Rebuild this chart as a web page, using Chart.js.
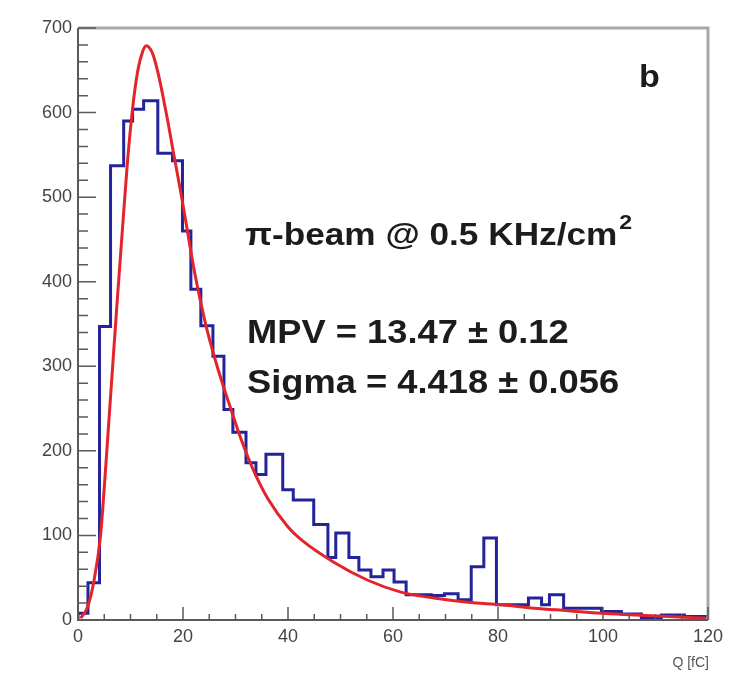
<!DOCTYPE html>
<html>
<head>
<meta charset="utf-8">
<script src="https://cdn.jsdelivr.net/npm/chart.js@4.4.0/dist/chart.umd.min.js"></script>
<style>
  html, body { margin: 0; padding: 0; background: #fff; }
  #wrap { width: 744px; height: 678px; position: relative; }
</style>
</head>
<body>
<div id="wrap"><canvas id="c" width="744" height="678"></canvas></div>
<script>
// histogram bin edges (fC) and counts per bin
var binEdges = [0, 1.9, 4.1, 6.2, 8.7, 10.4, 12.5, 15.2, 18.0, 19.9,
  21.5, 23.4, 25.7, 27.8, 29.5, 32.0, 33.9, 35.8, 39.0, 41.0,
  44.9, 47.6, 49.1, 51.6, 53.5, 55.8, 58.1, 60.2, 62.5, 67.3,
  69.8, 72.4, 74.9, 77.3, 79.7, 85.8, 88.3, 89.8, 92.5, 99.7,
  103.5, 107.3, 111.1, 115.5, 120];
var counts = [8, 44, 347, 537, 590, 604, 614, 552, 543, 460,
  391, 348, 312, 249, 222, 186, 172, 196, 154, 142,
  113, 74, 103, 74, 59, 51, 59, 45, 30, 29,
  31, 24, 63, 97, 18, 26, 18, 30, 14, 10,
  7, 3, 6, 4];

// landau fit curve
var fitQ = [0.5, 1.8, 3.0, 4.3, 5.1, 5.8, 6.6, 7.5, 8.5, 9.4,
  10.4, 11.4, 12.3, 13.0, 14.2, 15.2, 16.1, 17.1, 18.2, 19.6,
  20.9, 22.0, 23.4, 24.7, 26.6, 28.5, 31.0, 33.5, 36.2, 40.0,
  42.5, 48.8, 55.2, 61.5, 67.8, 74.3, 80.6, 86.9, 93.4, 99.7,
  106.0, 112.5, 119.7];
var fitN = [2, 15, 45, 100, 165, 228, 300, 380, 465, 540,
  605, 650, 672, 679, 670, 648, 622, 590, 552, 505,
  458, 418, 375, 340, 298, 261, 215, 176, 143, 110,
  95, 68, 47, 33, 26, 21, 18, 14, 11, 8,
  6, 4, 2];

var xTicks = [0, 20, 40, 60, 80, 100, 120];
var yTicks = [0, 100, 200, 300, 400, 500, 600, 700];

var histPts = [{x: binEdges[0], y: 0}];
for (var i = 0; i < counts.length; i++) histPts.push({x: binEdges[i], y: counts[i]});
histPts.push({x: binEdges[binEdges.length - 1], y: counts[counts.length - 1]});

var fitPts = fitQ.map(function (q, i) { return {x: q, y: fitN[i]}; });

var FONT = "'Liberation Sans', Arial, Helvetica, sans-serif";

// draw text stretched a bit sideways, ROOT fonts come out wider
function wideText(ctx, txt, x, y, sx) {
  ctx.save();
  ctx.translate(x, y);
  ctx.scale(sx, 1);
  ctx.fillText(txt, 0, 0);
  var w = ctx.measureText(txt).width * sx;
  ctx.restore();
  return w;
}

// ROOT style frame, inside ticks and the text boxes
var decor = {
  id: 'decor',
  afterDraw: function (chart) {
    var ctx = chart.ctx, a = chart.chartArea;
    var sx = chart.scales.x, sy = chart.scales.y;
    ctx.save();
    // frame top / right
    ctx.strokeStyle = '#a8a8a8';
    ctx.lineWidth = 3;
    ctx.beginPath();
    ctx.moveTo(a.left, a.top);
    ctx.lineTo(a.right, a.top);
    ctx.lineTo(a.right, a.bottom);
    ctx.stroke();
    // axes
    ctx.strokeStyle = '#5a5a5a';
    ctx.lineWidth = 2;
    ctx.beginPath();
    ctx.moveTo(a.left, a.top);
    ctx.lineTo(a.left, a.bottom);
    ctx.lineTo(a.right, a.bottom);
    ctx.stroke();
    ctx.lineWidth = 1.5;
    ctx.beginPath();
    for (var v = 0; v <= 700; v += 20) {
      var py = sy.getPixelForValue(v);
      var len = v % 100 === 0 ? 18 : 10;
      ctx.moveTo(a.left, py);
      ctx.lineTo(a.left + len, py);
    }
    for (var q = 0; q <= 120; q += 5) {
      var px = sx.getPixelForValue(q);
      var l2 = q % 20 === 0 ? 13 : 6;
      ctx.moveTo(px, a.bottom);
      ctx.lineTo(px, a.bottom - l2);
    }
    ctx.stroke();

    ctx.fillStyle = '#1c1c1c';
    ctx.textBaseline = 'alphabetic';
    ctx.textAlign = 'left';
    ctx.font = 'bold 31px ' + FONT;
    wideText(ctx, 'b', 639, 87, 1.1);

    ctx.font = 'bold 32px ' + FONT;
    var w1 = wideText(ctx, '\u03c0-beam @ 0.5 KHz/cm', 245, 245, 1.1);
    ctx.font = 'bold 21px ' + FONT;
    wideText(ctx, '2', 245 + w1 + 2, 229, 1.1);

    ctx.font = 'bold 33px ' + FONT;
    wideText(ctx, 'MPV = 13.47 \u00b1 0.12', 247, 343, 1.1);
    wideText(ctx, 'Sigma = 4.418 \u00b1 0.056', 247, 393, 1.1);

    ctx.fillStyle = '#555';
    ctx.font = '14px ' + FONT;
    ctx.textAlign = 'right';
    ctx.fillText('Q [fC]', 709, 667);
    ctx.restore();
  }
};

new Chart(document.getElementById('c'), {
  type: 'line',
  data: {
    datasets: [
      {
        data: fitPts,
        borderColor: '#e3242b',
        borderWidth: 3,
        pointRadius: 0,
        cubicInterpolationMode: 'monotone',
        fill: false,
        order: 0
      },
      {
        data: histPts,
        borderColor: '#23239a',
        borderWidth: 3,
        pointRadius: 0,
        stepped: true,
        fill: false,
        order: 1
      }
    ]
  },
  options: {
    responsive: false,
    animation: false,
    devicePixelRatio: 1,
    layout: { padding: { left: 0, top: 28, right: 36, bottom: 0 } },
    plugins: { legend: { display: false }, tooltip: { enabled: false } },
    scales: {
      x: {
        type: 'linear', min: 0, max: 120,
        afterFit: function (s) { s.height = 58; },
        afterBuildTicks: function (s) { s.ticks = xTicks.map(function (v) { return {value: v}; }); },
        grid: { display: false, drawTicks: false },
        border: { display: false },
        ticks: { color: '#444', padding: 6, maxRotation: 0, autoSkip: false, font: { family: FONT, size: 18 } }
      },
      y: {
        type: 'linear', min: 0, max: 700,
        afterFit: function (s) { s.width = 78; },
        afterBuildTicks: function (s) { s.ticks = yTicks.map(function (v) { return {value: v}; }); },
        grid: { display: false, drawTicks: false },
        border: { display: false },
        ticks: { color: '#444', padding: 6, autoSkip: false, font: { family: FONT, size: 18 } }
      }
    }
  },
  plugins: [decor]
});
</script>
</body>
</html>
